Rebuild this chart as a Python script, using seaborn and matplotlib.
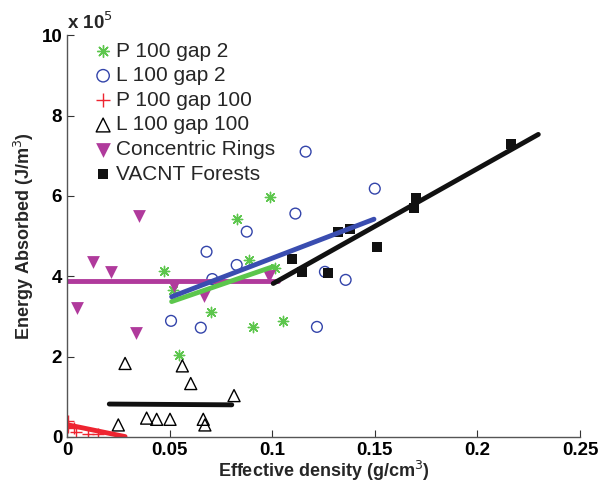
import matplotlib
matplotlib.use('Agg')
import matplotlib.pyplot as plt
import numpy as np
import pandas as pd
import seaborn as sns

# measured points (y in units of 1e5 J/m^3)
p2_x = [0.0473, 0.0517, 0.0546, 0.0700, 0.0827, 0.0887, 0.0905, 0.0989, 0.1014, 0.1051]
p2_y = [4.13, 3.66, 2.04, 3.10, 5.42, 4.40, 2.74, 5.98, 4.21, 2.89]

l2_x = [0.0507, 0.0652, 0.0680, 0.0708, 0.0827, 0.0876, 0.1113, 0.1163, 0.1218, 0.1257, 0.1358, 0.1500]
l2_y = [2.89, 2.72, 4.61, 3.93, 4.28, 5.11, 5.56, 7.10, 2.74, 4.11, 3.91, 6.18]

p100_x = [0.0004, 0.0006, 0.0035, 0.0045, 0.0100, 0.0152]
p100_y = [0.41, 0.24, 0.22, 0.12, 0.07, 0.08]

l100_x = [0.0250, 0.0283, 0.0388, 0.0437, 0.0502, 0.0562, 0.0603, 0.0664, 0.0672, 0.0814]
l100_y = [0.30, 1.83, 0.47, 0.44, 0.44, 1.77, 1.33, 0.44, 0.30, 1.03]

ring_x = [0.0050, 0.0128, 0.0213, 0.0336, 0.0351, 0.0523, 0.0669, 0.0986]
ring_y = [3.20, 4.36, 4.10, 2.60, 5.50, 3.76, 3.51, 4.00]

vac_x = [0.1098, 0.1144, 0.1270, 0.1319, 0.1379, 0.1510, 0.1693, 0.1700, 0.2164]
vac_y = [4.44, 4.11, 4.07, 5.11, 5.17, 4.72, 5.71, 5.94, 7.28]

# fit line end points
fit_p2_x, fit_p2_y = [0.051, 0.1005], [3.37, 4.24]
fit_l2_x, fit_l2_y = [0.051, 0.1496], [3.49, 5.42]
fit_p100_x, fit_p100_y = [0.0006, 0.0283], [0.30, 0.01]
fit_l100_x, fit_l100_y = [0.0206, 0.0803], [0.82, 0.80]
fit_ring_x, fit_ring_y = [0.0, 0.1028], [3.88, 3.88]
fit_vac_x, fit_vac_y = [0.1005, 0.2297], [3.82, 7.53]

green = '#5cc64c'
blue = '#3344aa'
red = '#ee2430'
magenta = '#b03a9c'

sns.set_style('ticks')
plt.rcParams['font.family'] = ['Liberation Sans', 'DejaVu Sans']

fig = plt.figure(figsize=(6.01, 4.95), dpi=100)
ax = fig.add_axes([0.1115, 0.1172, 0.8535, 0.8118])

sns.lineplot(x=fit_ring_x, y=fit_ring_y, color=magenta, lw=3.5, ax=ax)
sns.lineplot(x=fit_p2_x, y=fit_p2_y, color=green, lw=3.5, ax=ax)
sns.lineplot(x=fit_l2_x, y=fit_l2_y, color='#3a4db0', lw=3.5, ax=ax)
sns.lineplot(x=fit_p100_x, y=fit_p100_y, color=red, lw=3.5, ax=ax)
sns.lineplot(x=fit_l100_x, y=fit_l100_y, color='#111111', lw=3.5, ax=ax)
sns.lineplot(x=fit_vac_x, y=fit_vac_y, color='#111111', lw=3.5, ax=ax)

sns.scatterplot(x=p2_x, y=p2_y, marker=(8, 2, 0), s=55, color=green, linewidth=1.0,
                label='P 100 gap 2', ax=ax)
sns.scatterplot(x=l2_x, y=l2_y, marker='o', s=60, facecolor='none', edgecolor=blue,
                linewidth=1.0, label='L 100 gap 2', ax=ax)
sns.scatterplot(x=p100_x, y=p100_y, marker='+', s=80, color=red, linewidth=1.0,
                label='P 100 gap 100', ax=ax)
sns.scatterplot(x=l100_x, y=l100_y, marker='^', s=75, facecolor='none', edgecolor='black',
                linewidth=1.0, label='L 100 gap 100', ax=ax)
sns.scatterplot(x=ring_x, y=ring_y, marker='v', s=85, color=magenta, linewidth=0,
                label='Concentric Rings', ax=ax)
sns.scatterplot(x=vac_x, y=vac_y, marker='s', s=45, color='#111111', linewidth=0,
                label='VACNT Forests', ax=ax)

ax.set_xlim(0, 0.25)
ax.set_ylim(0, 10)
ax.set_xticks([0, 0.05, 0.1, 0.15, 0.2, 0.25])
ax.set_xticklabels(['0', '0.05', '0.1', '0.15', '0.2', '0.25'])
ax.set_yticks([0, 2, 4, 6, 8, 10])
ax.tick_params(direction='in', length=5, width=0.8, labelsize=13.5, colors='#333333',
               labelcolor='black')
for lab in ax.get_xticklabels() + ax.get_yticklabels():
    lab.set_fontweight('bold')
sns.despine(ax=ax)
for sp in ['left', 'bottom']:
    ax.spines[sp].set_color('#555555')
    ax.spines[sp].set_linewidth(1.0)

ax.set_xlabel('Effective density (g/cm$^3$)', fontsize=13, fontweight='bold', labelpad=0)
ax.set_ylabel('Energy Absorbed (J/m$^3$)', fontsize=13, fontweight='bold', labelpad=4)
ax.text(0.0, 1.005, 'x 10$^5$', transform=ax.transAxes, fontsize=13.5, fontweight='bold',
        ha='left', va='bottom')

leg = ax.legend(loc='upper left', bbox_to_anchor=(0.046, 0.984), frameon=False,
                fontsize=15, handletextpad=0.0, handlelength=1.2, labelspacing=0.27,
                borderaxespad=0.0, borderpad=0.0, markerscale=1.15)

fig.savefig('out.png', dpi=100)
